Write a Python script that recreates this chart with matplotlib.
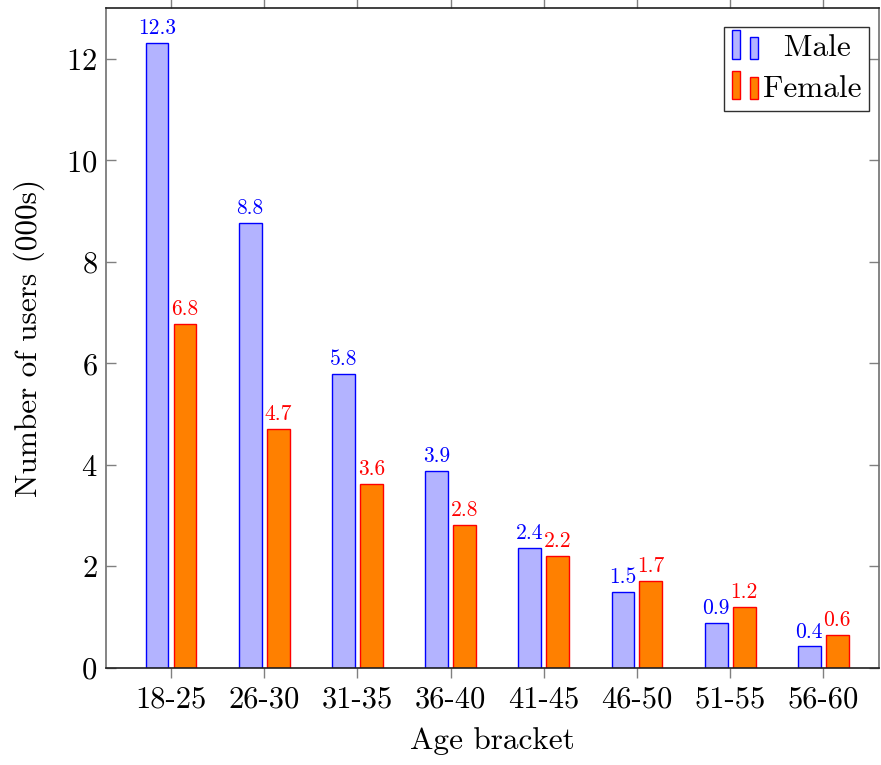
import matplotlib
matplotlib.use("Agg")
import matplotlib.pyplot as plt
import numpy as np
from matplotlib.patches import Rectangle
from matplotlib.legend_handler import HandlerBase

plt.rcParams['font.family'] = ['cmr10', 'DejaVu Serif']
plt.rcParams['axes.formatter.use_mathtext'] = True

brackets = ['18-25', '26-30', '31-35', '36-40', '41-45', '46-50', '51-55', '56-60']
male = [12.32, 8.77, 5.79, 3.88, 2.36, 1.50, 0.89, 0.42]
female = [6.78, 4.71, 3.63, 2.81, 2.21, 1.71, 1.20, 0.64]
male_labels = ['12.3', '8.8', '5.8', '3.9', '2.4', '1.5', '0.9', '0.4']
female_labels = ['6.8', '4.7', '3.6', '2.8', '2.2', '1.7', '1.2', '0.6']

male_fill, male_edge = '#b3b3ff', '#0000ff'
fem_fill, fem_edge = '#ff8000', '#ff0000'


class TwoBarHandler(HandlerBase):
    # pgfplots-style legend image: two little bars
    def create_artists(self, legend, orig_handle, xdescent, ydescent,
                       width, height, fontsize, trans):
        fc, ec = orig_handle
        w = width * 0.3
        r1 = Rectangle((-xdescent, -ydescent - 0.1 * height), w, height * 1.3,
                       facecolor=fc, edgecolor=ec, lw=1, transform=trans)
        r2 = Rectangle((-xdescent + width * 0.65, -ydescent - 0.1 * height), w, height * 1.0,
                       facecolor=fc, edgecolor=ec, lw=1, transform=trans)
        return [r1, r2]


fig = plt.figure(figsize=(8.81, 7.65), dpi=100)
ax = fig.add_axes([0.1200, 0.1272, 0.8780, 0.8620])

x = np.arange(len(brackets))
bw = 0.245
off = 0.15

bars_m = ax.bar(x - off, male, bw, color=male_fill, edgecolor=male_edge, linewidth=1)
bars_f = ax.bar(x + off, female, bw, color=fem_fill, edgecolor=fem_edge, linewidth=1)

for b, lab in zip(bars_m, male_labels):
    ax.annotate(lab, (b.get_x() + b.get_width() / 2, b.get_height()),
                xytext=(0, 3.5), textcoords='offset points', ha='center', va='bottom',
                fontsize=15.5, color=male_edge)
for b, lab in zip(bars_f, female_labels):
    ax.annotate(lab, (b.get_x() + b.get_width() / 2, b.get_height()),
                xytext=(0, 3.5), textcoords='offset points', ha='center', va='bottom',
                fontsize=15.5, color=fem_edge)

ax.set_xlim(-0.70, 7.60)
ax.set_ylim(0, 13)
ax.set_xticks(x)
ax.set_xticklabels(brackets)
ax.set_yticks([0, 2, 4, 6, 8, 10, 12])

ax.tick_params(axis='x', direction='out', length=7, width=1, color='#808080',
               top=True, labelsize=22, pad=6)
ax.tick_params(axis='y', direction='in', length=7, width=1, color='#808080',
               right=True, labelsize=22, pad=6)

for s in ['top', 'bottom']:
    ax.spines[s].set_color('#202020')
    ax.spines[s].set_linewidth(1.2)
for s in ['left', 'right']:
    ax.spines[s].set_color('#707070')
    ax.spines[s].set_linewidth(1.2)

ax.set_xlabel('Age bracket', fontsize=22.5, labelpad=10)
ax.set_ylabel('Number of users (000s)', fontsize=22.5, labelpad=15)

leg = ax.legend([(male_fill, male_edge), (fem_fill, fem_edge)], ['  Male', 'Female'],
                handler_map={tuple: TwoBarHandler()}, loc='upper right',
                bbox_to_anchor=(0.987, 0.972), fontsize=22.5, fancybox=False,
                framealpha=1, edgecolor='#303030', handlelength=0.9,
                handletextpad=0.1, borderpad=0.25, labelspacing=0.4,
                borderaxespad=0)
leg.get_frame().set_linewidth(1.0)

fig.savefig('out.png', dpi=100)
